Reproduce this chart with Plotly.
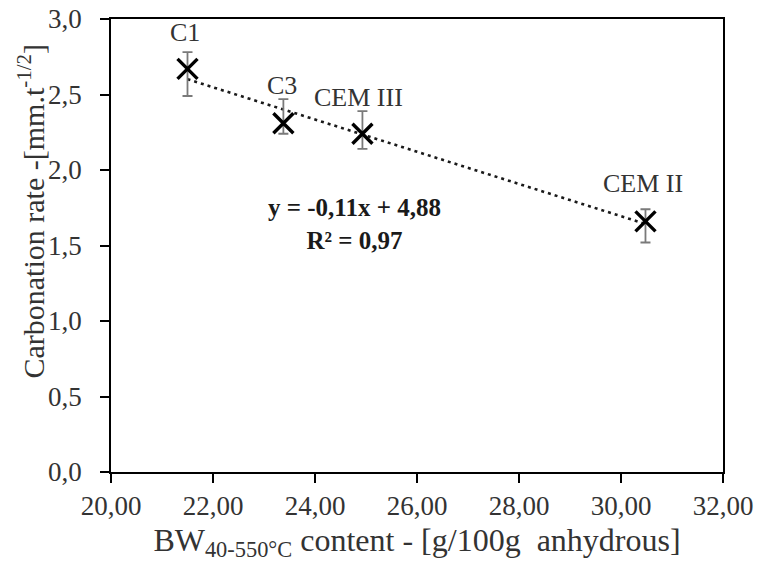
import numpy as np
import plotly.graph_objects as go

# Data
labels = ["C1", "C3", "CEM III", "CEM II"]
bw_content = [21.50, 23.38, 24.93, 30.48]
carb_rate = [2.67, 2.31, 2.24, 1.66]
err_plus = [0.11, 0.16, 0.15, 0.08]
err_minus = [0.18, 0.07, 0.10, 0.14]
x_ticks = [20, 22, 24, 26, 28, 30, 32]
y_ticks = [0.0, 0.5, 1.0, 1.5, 2.0, 2.5, 3.0]
equation_text = "y = -0,11x + 4,88<br>R² = 0,97"
y_title = "Carbonation rate -[mm.t<sup>-1/2</sup>]"
x_title = "BW<sub>40-550°C</sub> content - [g/100g  anhydrous]"

# label offsets (px) relative to error-bar top
label_shift = [3, -3, -3, 9]
label_xshift = [-3, -1, -4, -2]

FONT = "Liberation Serif"
TXT = "#333333"

slope, intercept = np.polyfit(bw_content, carb_rate, 1)
xl = np.array([min(bw_content), max(bw_content)])
yl = slope * xl + intercept

fig = go.Figure()
fig.add_trace(go.Scatter(
    x=xl, y=yl, mode="lines",
    line=dict(color="#1a1a1a", width=2.6, dash="3px,4px"),
    hoverinfo="skip", showlegend=False))
fig.add_trace(go.Scatter(
    x=bw_content, y=carb_rate, mode="markers",
    marker=dict(symbol="x-thin", size=20, line=dict(color="black", width=3.4)),
    error_y=dict(type="data", symmetric=False, array=err_plus, arrayminus=err_minus,
                 color="#7a7a7a", thickness=1.8, width=5),
    showlegend=False))

for i, lab in enumerate(labels):
    fig.add_annotation(x=bw_content[i], y=carb_rate[i] + err_plus[i], text=lab,
                       showarrow=False, yanchor="bottom", yshift=label_shift[i],
                       xshift=label_xshift[i],
                       font=dict(family=FONT, size=26, color=TXT))

fig.add_annotation(x=24.78, y=1.64, xref="x", yref="y", text="<b>" + equation_text + "</b>",
                   showarrow=False, align="center",
                   font=dict(family=FONT, size=25, color="#1a1a1a"))

# y-axis title (rotated annotation; in the reference it sits above centre)
fig.add_annotation(xref="paper", yref="paper", x=0, y=0.575, xanchor="center", yanchor="middle",
                   xshift=-80, text=y_title, textangle=-90, showarrow=False,
                   font=dict(family=FONT, size=30, color=TXT))

fig.update_layout(
    width=760, height=574,
    margin=dict(l=111, r=37, t=19, b=101.5, autoexpand=False),
    paper_bgcolor="white", plot_bgcolor="white",
    separators=", ",
    font=dict(family=FONT, color=TXT),
)
fig.update_xaxes(
    range=[20, 32], tickvals=x_ticks, tickformat=".2f",
    showgrid=False, zeroline=False, automargin=False,
    showline=True, linecolor="black", linewidth=1.6, mirror=True,
    ticks="outside", ticklen=9, tickwidth=1.6, tickcolor="black",
    ticklabeloverflow="allow",
    tickfont=dict(family=FONT, size=27, color=TXT),
    title=dict(text=x_title, font=dict(family=FONT, size=32, color=TXT), standoff=8),
)
fig.update_yaxes(
    range=[0, 3.0], tickvals=y_ticks, tickformat=".1f",
    showgrid=False, zeroline=False, automargin=False,
    showline=True, linecolor="black", linewidth=1.6, mirror=True,
    ticks="outside", ticklen=9, tickwidth=1.6, tickcolor="black",
    ticklabelstandoff=13, ticklabeloverflow="allow",
    tickfont=dict(family=FONT, size=27, color=TXT),
)

fig.write_html("out.html", config={"displayModeBar": False},
               post_script="document.body.style.margin='0';")
